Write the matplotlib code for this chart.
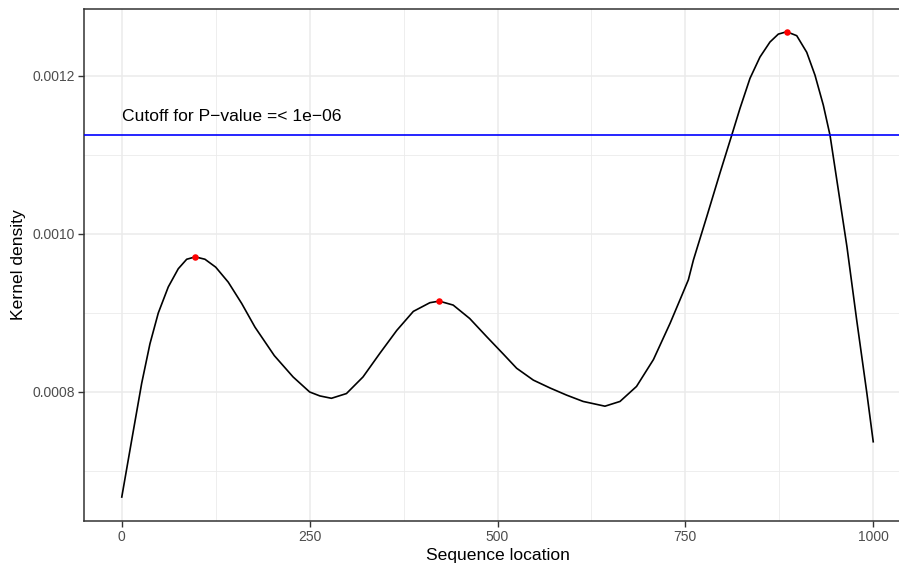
import matplotlib
matplotlib.use("Agg")
import matplotlib.pyplot as plt

plt.rcParams['font.family'] = ['Liberation Sans', 'DejaVu Sans']

# Kernel density curve
seq_x = [0, 13.2, 26.5, 37.5, 48.6, 61.9, 75.2, 86.4, 97.8, 110.7, 125, 141.7, 159.6,
         177.3, 203, 228, 250, 263.6, 279, 299, 321, 343.5, 366, 388, 410, 422.5,
         441, 463, 485.6, 507.7, 525.5, 547.7, 570, 592, 614, 643, 663, 685, 707.5,
         729.7, 743, 754, 760.7, 778.5, 796, 811.7, 822.7, 836, 849.3, 862.6, 873.7,
         884.9, 898.2, 911.5, 922.5, 933.6, 942.5, 951.6, 965, 978, 991.6, 1000]
density = [0.000667, 0.000739, 0.000811, 0.000861, 0.000900, 0.000933, 0.000956,
           0.000968, 0.000971, 0.000968, 0.000958, 0.000939, 0.000912, 0.000882,
           0.000846, 0.000819, 0.000800, 0.000795, 0.000792, 0.000798, 0.000819,
           0.000849, 0.000878, 0.000902, 0.000913, 0.000915, 0.000910, 0.000893,
           0.000870, 0.000848, 0.000830, 0.000815, 0.000805, 0.000796, 0.000788,
           0.000782, 0.000788, 0.000807, 0.000841, 0.000887, 0.000917, 0.000942,
           0.000967, 0.001022, 0.001077, 0.001125, 0.001159, 0.001197, 0.001224,
           0.001243, 0.001253, 0.001256, 0.001251, 0.001230, 0.001201, 0.001163,
           0.001125, 0.001068, 0.000984, 0.000891, 0.000798, 0.000737]

peak_x = [98, 422.5, 885]
peak_y = [0.000971, 0.000915, 0.001256]

cutoff = 0.001125
cutoff_label = "Cutoff for P\u2212value =< 1e\u221206"

x_major = [0, 250, 500, 750, 1000]
x_major_labels = ["0", "250", "500", "750", "1000"]
x_minor = [125, 375, 625, 875]
y_major = [0.0008, 0.0010, 0.0012]
y_major_labels = ["0.0008", "0.0010", "0.0012"]
y_minor = [0.0007, 0.0009, 0.0011]

W, H = 899, 565
fig = plt.figure(figsize=(W / 100, H / 100), dpi=100)
left_px, right_px, top_px, bot_px = 84.2, 910.8, 9.3, 520.5
ax = fig.add_axes([left_px / W, 1 - bot_px / H, (right_px - left_px) / W, (bot_px - top_px) / H])

ax.set_xlim(-50, 1050)
ax.set_ylim(0.0006373, 0.0012844)

ax.set_xticks(x_major)
ax.set_xticklabels(x_major_labels)
ax.set_xticks(x_minor, minor=True)
ax.set_yticks(y_major)
ax.set_yticklabels(y_major_labels)
ax.set_yticks(y_minor, minor=True)

grid_c = '#EBEBEB'
ax.grid(which='major', color=grid_c, linewidth=1.1, zorder=0)
ax.grid(which='minor', color=grid_c, linewidth=0.6, zorder=0)
ax.set_axisbelow(True)

for s in ax.spines.values():
    s.set_color('#333333')
    s.set_linewidth(1.1)

ax.tick_params(which='major', length=4, width=1.0, color='#333333',
               labelsize=10, labelcolor='#4D4D4D', pad=2.5)
ax.tick_params(which='minor', length=0)

ax.plot(seq_x, density, color='black', linewidth=1.2, zorder=3,
        solid_joinstyle='round')
ax.axhline(cutoff, color='#0000FF', linewidth=1.2, zorder=3)
ax.scatter(peak_x, peak_y, color='#FF0000', s=22, zorder=4, linewidths=0)
ax.text(0, cutoff + 0.0000148, cutoff_label, ha='left', va='bottom',
        fontsize=12.6, color='black')

ax.set_xlabel("Sequence location", fontsize=12.6, color='black', labelpad=3)
ax.set_ylabel("Kernel density", fontsize=12.6, color='black', labelpad=5)

fig.savefig("out.png", dpi=100)
